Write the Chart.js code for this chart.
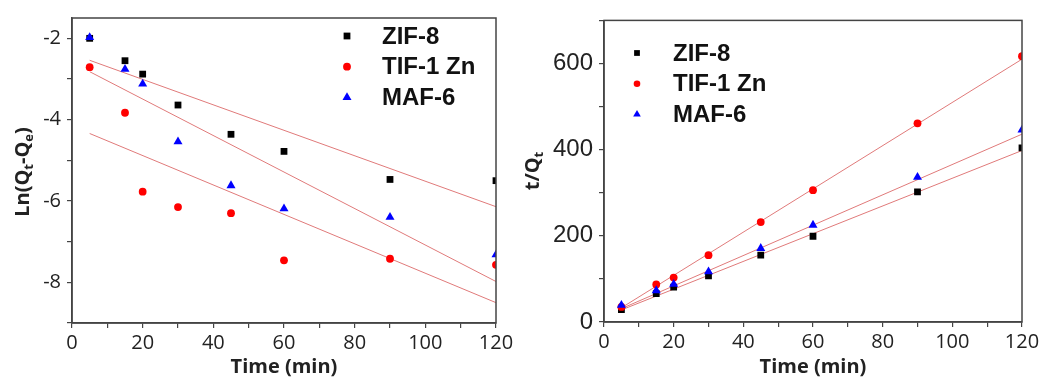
<!DOCTYPE html>
<html>
<head>
<meta charset="utf-8">
<script src="https://cdn.jsdelivr.net/npm/chart.js@4/dist/chart.umd.min.js"></script>
<style>
  html, body { margin: 0; padding: 0; background: #fff; }
  #wrap { position: relative; width: 1044px; height: 383px; }
  #leftBox { position: absolute; left: 0; top: 0; width: 520px; height: 383px; }
  #rightBox { position: absolute; left: 520px; top: 0; width: 524px; height: 383px; }
</style>
</head>
<body>
<div id="wrap">
  <div id="leftBox"><canvas id="chartLn" width="520" height="383"></canvas></div>
  <div id="rightBox"><canvas id="chartTq" width="524" height="383"></canvas></div>
</div>
<script>
// valeurs
const timeMin = [5, 15, 20, 30, 45, 60, 90, 120];
const seriesNames = ["ZIF-8", "TIF-1 Zn", "MAF-6"];

// pseudo premier ordre : Ln(Qt-Qe)
const lnZif = [-2.0, -2.55, -2.88, -3.64, -4.36, -4.78, -5.47, -5.50];
const lnTif = [-2.71, -3.83, -5.77, -6.15, -6.30, -7.46, -7.42, -7.57];
const lnMaf = [-1.98, -2.76, -3.12, -4.54, -5.62, -6.19, -6.40, -7.32];
const fitX = [5, 120];
const lnFitZif = [-2.54, -6.14];
const lnFitMaf = [-2.82, -7.98];
const lnFitTif = [-4.34, -8.50];

// pseudo second ordre : t/Qt
const tqZif = [29, 66, 81, 107, 155, 199, 302, 404];
const tqTif = [35, 87, 103, 155, 232, 306, 461, 617];
const tqMaf = [39, 73, 88, 117, 171, 225, 336, 446];
const tqFitZif = [28, 398];
const tqFitMaf = [31, 436];
const tqFitTif = [33, 610];

// graduations
const xTickValues = [0, 10, 20, 30, 40, 50, 60, 70, 80, 90, 100, 110, 120];
const lnTickValues = [-9, -8, -7, -6, -5, -4, -3, -2];
const tqTickValues = [0, 100, 200, 300, 400, 500, 600, 700];

const styles = [
    { color: "#000000", pointStyle: "rect", radius: 4.8 },
    { color: "#ff0000", pointStyle: "circle", radius: 3.9 },
    { color: "#0000ff", pointStyle: "triangle", radius: 5.2 }
];
const fitColor = "#e07a7a";

function pts(xs, ys) {
    return xs.map((x, i) => ({ x: x, y: ys[i] }));
}

function buildDatasets(series, fits) {
    let ds = [];
    series.forEach((ys, i) => {
        ds.push({
            label: seriesNames[i],
            data: pts(timeMin, ys),
            backgroundColor: styles[i].color,
            borderColor: styles[i].color,
            pointStyle: styles[i].pointStyle,
            pointRadius: styles[i].radius,
            pointBorderWidth: 0,
            showLine: false,
            clip: 0,
            order: 3 - i
        });
    });
    fits.forEach(ys => {
        ds.push({
            label: "fit",
            data: pts(fitX, ys),
            borderColor: fitColor,
            borderWidth: 1,
            pointRadius: 0,
            showLine: true,
            clip: 0,
            order: 10
        });
    });
    return ds;
}

// cadre + titre vertical avec indices + légende
const figPlugin = {
    id: "figPlugin",
    afterDraw(chart, args, opts) {
        const ctx = chart.ctx;
        const a = chart.chartArea;
        ctx.save();
        ctx.strokeStyle = "#444";
        ctx.lineWidth = 1.5;
        ctx.strokeRect(a.left, a.top, a.right - a.left, a.bottom - a.top);

        // titre axe y
        const parts = opts.yTitle;
        const big = "bold 20px 'Open Sans', sans-serif";
        const small = "bold 13px 'Open Sans', sans-serif";
        let total = 0;
        parts.forEach(p => { ctx.font = p.sub ? small : big; total += ctx.measureText(p.t).width; });
        ctx.translate(opts.yTitleX, opts.yTitleY);
        ctx.rotate(-Math.PI / 2);
        ctx.fillStyle = "#222";
        ctx.textBaseline = "alphabetic";
        let x = -total / 2;
        parts.forEach(p => {
            ctx.font = p.sub ? small : big;
            ctx.fillText(p.t, x, p.sub ? 11 : 7);
            x += ctx.measureText(p.t).width;
        });
        ctx.restore();

        // légende
        ctx.save();
        const lg = opts.legend;
        ctx.font = "bold 24px 'Liberation Sans', Arial, sans-serif";
        ctx.textBaseline = "middle";
        seriesNames.forEach((name, i) => {
            const y = lg.y + i * lg.dy;
            ctx.fillStyle = styles[i].color;
            Chart.helpers.drawPoint(ctx, {
                pointStyle: styles[i].pointStyle,
                radius: styles[i].radius * lg.scale,
                rotation: 0,
                borderWidth: 0
            }, lg.markerX, y);
            ctx.fillStyle = "#111";
            ctx.fillText(name, lg.textX, y + 1);
        });
        ctx.restore();
    }
};

function makeOptions(cfg) {
    return {
        responsive: false,
        animation: false,
        layout: { padding: { left: 0, right: cfg.padRight, top: cfg.padTop, bottom: 0 } },
        plugins: {
            legend: { display: false },
            tooltip: { enabled: false },
            figPlugin: cfg.fig
        },
        scales: {
            x: {
                type: "linear",
                min: 0,
                max: 120,
                afterBuildTicks: s => { s.ticks = xTickValues.map(v => ({ value: v })); },
                afterFit: s => { s.height = cfg.xHeight; },
                ticks: {
                    autoSkip: false,
                    maxRotation: 0,
                    padding: 3,
                    color: "#222",
                    font: { family: "'Open Sans', sans-serif", size: 20 },
                    callback: v => (v % 20 === 0 ? v : "")
                },
                grid: { drawOnChartArea: false, drawTicks: true, tickLength: 5, color: "#444", lineWidth: 1.2 },
                border: { display: true, color: "#444", width: 1.5 },
                title: {
                    display: true,
                    text: "Time (min)",
                    color: "#222",
                    font: { family: "'Open Sans', sans-serif", size: 20, weight: "bold" },
                    padding: { top: 0, bottom: 4 }
                }
            },
            y: {
                type: "linear",
                min: cfg.yMin,
                max: cfg.yMax,
                afterBuildTicks: s => { s.ticks = cfg.yTicks.map(v => ({ value: v })); },
                afterFit: s => { s.width = cfg.yWidth; },
                ticks: {
                    autoSkip: false,
                    padding: 6,
                    color: "#222",
                    font: cfg.yFont,
                    callback: cfg.yLabel
                },
                grid: { drawOnChartArea: false, drawTicks: true, tickLength: 5, color: "#444", lineWidth: 1.2 },
                border: { display: true, color: "#444", width: 1.5 }
            }
        }
    };
}

// Graphique Ln(Qt-Qe)
new Chart(document.getElementById("chartLn"), {
    type: "scatter",
    data: { datasets: buildDatasets([lnZif, lnTif, lnMaf], [lnFitZif, lnFitMaf, lnFitTif]) },
    options: makeOptions({
        padRight: 24, padTop: 11, xHeight: 60, yWidth: 72,
        yMin: -9, yMax: -1.5, yTicks: lnTickValues,
        yFont: { family: "'Open Sans', sans-serif", size: 20 },
        yLabel: v => (v % 2 === 0 ? String(v) : ""),
        fig: {
            yTitle: [{ t: "Ln(Q" }, { t: "t", sub: true }, { t: "-Q" }, { t: "e", sub: true }, { t: ")" }],
            yTitleX: 22, yTitleY: 172,
            legend: { markerX: 347, textX: 382, y: 36, dy: 30.7, scale: 1 }
        }
    }),
    plugins: [figPlugin]
});

// Graphique t/Qt
new Chart(document.getElementById("chartTq"), {
    type: "scatter",
    data: { datasets: buildDatasets([tqZif, tqTif, tqMaf], [tqFitZif, tqFitMaf, tqFitTif]) },
    options: makeOptions({
        padRight: 22, padTop: 13, xHeight: 61, yWidth: 84,
        yMin: 0, yMax: 700, yTicks: tqTickValues,
        yFont: { family: "'Liberation Sans', Arial, sans-serif", size: 24 },
        yLabel: v => (v % 200 === 0 ? String(v) : ""),
        fig: {
            yTitle: [{ t: "t/Q" }, { t: "t", sub: true }],
            yTitleX: 12, yTitleY: 171,
            legend: { markerX: 117, textX: 153, y: 53, dy: 30.7, scale: 0.85 }
        }
    }),
    plugins: [figPlugin]
});
</script>
</body>
</html>
